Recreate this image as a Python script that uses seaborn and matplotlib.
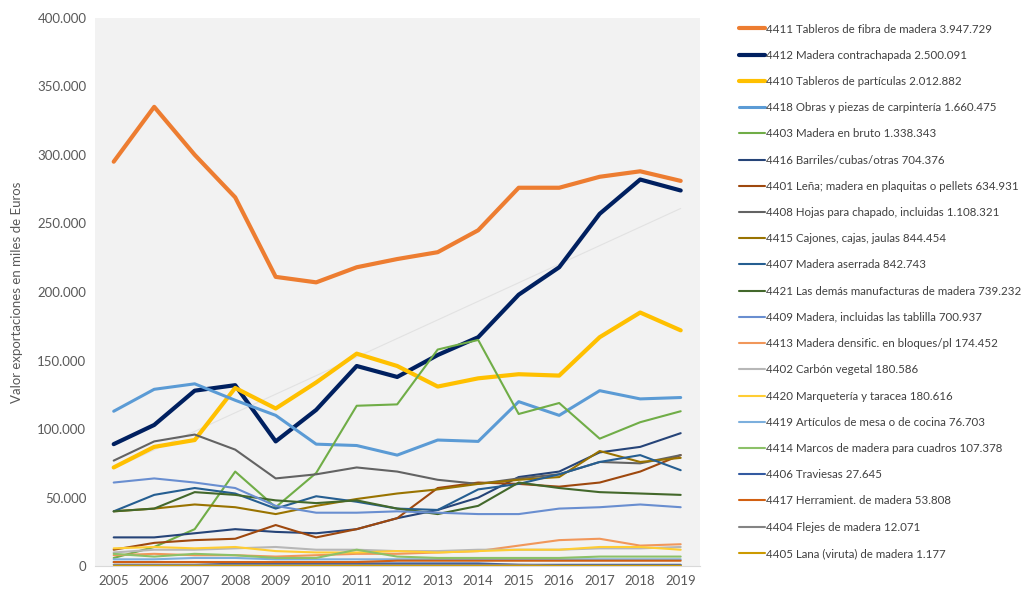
import numpy as np
import pandas as pd
import seaborn as sns
import matplotlib.pyplot as plt
from matplotlib.ticker import FuncFormatter

years = list(range(2005, 2020))

# valores en miles de euros
s4411 = [295000, 335000, 300000, 269000, 211000, 207000, 218000, 224000, 229000, 245000, 276000, 276000, 284000, 288000, 281000]
s4412 = [89000, 103000, 128000, 132000, 91000, 114000, 146000, 138000, 154000, 167000, 198000, 218000, 257000, 282000, 274000]
s4410 = [72000, 87000, 92000, 130000, 115000, 134000, 155000, 146000, 131000, 137000, 140000, 139000, 167000, 185000, 172000]
s4418 = [113000, 129000, 133000, 121000, 110000, 89000, 88000, 81000, 92000, 91000, 120000, 110000, 128000, 122000, 123000]
s4403 = [6000, 14000, 27000, 69000, 43000, 68000, 117000, 118000, 158000, 165000, 111000, 119000, 93000, 105000, 113000]
s4416 = [21000, 21000, 24000, 27000, 25000, 24000, 27000, 35000, 41000, 50000, 65000, 69000, 83000, 87000, 97000]
s4401 = [12000, 17000, 19000, 20000, 30000, 21000, 27000, 35000, 57000, 61000, 60000, 58000, 61000, 69000, 81000]
s4408 = [77000, 91000, 96000, 85000, 64000, 67000, 72000, 69000, 63000, 60000, 64000, 67000, 76000, 75000, 81000]
s4415 = [40000, 42000, 45000, 43000, 38000, 44000, 49000, 53000, 56000, 60000, 63000, 65000, 84000, 76000, 79000]
s4407 = [40000, 52000, 57000, 53000, 42000, 51000, 47000, 42000, 41000, 56000, 60000, 67000, 76000, 81000, 70000]
s4421 = [40000, 42000, 54000, 52000, 48000, 46000, 48000, 42000, 38000, 44000, 61000, 57000, 54000, 53000, 52000]
s4409 = [61000, 64000, 61000, 57000, 44000, 39000, 39000, 40000, 39000, 38000, 38000, 42000, 43000, 45000, 43000]
s4413 = [8000, 9000, 8000, 8000, 7000, 8000, 9000, 9000, 10000, 11000, 15000, 19000, 20000, 15000, 16000]
s4402 = [10000, 12000, 12000, 13000, 14000, 12000, 12000, 11000, 11000, 12000, 12000, 12000, 13000, 13000, 14000]
s4420 = [13000, 14000, 13000, 14000, 11000, 10000, 10000, 11000, 10000, 11000, 12000, 12000, 14000, 14000, 12000]
s4419 = [5000, 5000, 6000, 6000, 5000, 5000, 5000, 5000, 5000, 5000, 5000, 5000, 5000, 5000, 5000]
s4414 = [9000, 7000, 9000, 8000, 6000, 6000, 12000, 7000, 6000, 6000, 6000, 6000, 7000, 7000, 7000]
s4406 = [3000, 3000, 3000, 2000, 2000, 2000, 2000, 2000, 2000, 2000, 1000, 1000, 1000, 1000, 1000]
s4417 = [3000, 3000, 3000, 3000, 3000, 3000, 3000, 4000, 4000, 4000, 4000, 4000, 4000, 4000, 4000]
s4404 = [1000, 1000, 1000, 1000, 1000, 1000, 1000, 1000, 1000, 1000, 1000, 500, 500, 500, 500]
s4405 = [80, 80, 80, 80, 80, 80, 80, 80, 80, 80, 80, 80, 80, 80, 80]

labels = [
    "4411 Tableros de fibra de madera 3.947.729",
    "4412 Madera contrachapada 2.500.091",
    "4410 Tableros de partículas 2.012.882",
    "4418 Obras y piezas de carpintería 1.660.475",
    "4403 Madera en bruto 1.338.343",
    "4416 Barriles/cubas/otras 704.376",
    "4401 Leña; madera en plaquitas o pellets 634.931",
    "4408 Hojas para chapado, incluidas 1.108.321",
    "4415 Cajones, cajas, jaulas 844.454",
    "4407 Madera aserrada 842.743",
    "4421 Las demás manufacturas de madera 739.232",
    "4409 Madera, incluidas las tablilla 700.937",
    "4413 Madera densific. en bloques/pl 174.452",
    "4402 Carbón vegetal 180.586",
    "4420 Marquetería y taracea 180.616",
    "4419 Artículos de mesa o de cocina 76.703",
    "4414 Marcos de madera para cuadros 107.378",
    "4406 Traviesas 27.645",
    "4417 Herramient. de madera 53.808",
    "4404 Flejes de madera 12.071",
    "4405 Lana (viruta) de madera 1.177",
]
series = [s4411, s4412, s4410, s4418, s4403, s4416, s4401, s4408, s4415, s4407,
          s4421, s4409, s4413, s4402, s4420, s4419, s4414, s4406, s4417, s4404, s4405]

colors = ["#ED7D31", "#002060", "#FFC000", "#5B9BD5", "#70AD47", "#264478",
          "#9E480E", "#636363", "#997300", "#255E91", "#43682B", "#698ED0",
          "#F1975A", "#B7B7B7", "#FFCD33", "#7CAFDD", "#8CC168", "#335AA1",
          "#D26012", "#848484", "#CC9A00"]
widths = [3.0, 3.0, 3.0, 2.2] + [1.5] * 17

rows = []
for lab, vals in zip(labels, series):
    for y, v in zip(years, vals):
        rows.append({"anio": y, "valor": v, "serie": lab})
df = pd.DataFrame(rows)

sns.set_style("white")
plt.rcParams['font.family'] = ['Lato', 'DejaVu Sans']

fig = plt.figure(figsize=(10.29, 5.91), dpi=100)
ax = fig.add_axes([0.092, 0.042, 0.588, 0.928])
ax.set_facecolor("#F2F2F2")

# linea de tendencia (lineal) de la madera contrachapada
sns.regplot(x=np.array(years), y=np.array(s4412), scatter=False, ci=None, ax=ax,
            line_kws={"color": "#E2E2E2", "lw": 0.8}, truncate=True)

sns.lineplot(data=df, x="anio", y="valor", hue="serie", hue_order=labels,
             palette=dict(zip(labels, colors)), size="serie",
             sizes=dict(zip(labels, widths)), size_order=labels, ax=ax)

ax.set_xlim(2004.53, 2019.47)
ax.set_ylim(0, 400000)
ax.set_xticks(years)
ax.set_yticks(range(0, 400001, 50000))
ax.yaxis.set_major_formatter(FuncFormatter(lambda v, p: f"{int(v):,}".replace(",", ".")))
ax.tick_params(axis="both", length=0, labelsize=9.5, colors="#595959", pad=6)
ax.set_xlabel("")
ax.set_ylabel("Valor exportaciones en miles de Euros", fontsize=9.5, color="#595959", labelpad=10)
for side in ["top", "right", "left"]:
    ax.spines[side].set_visible(False)
ax.spines["bottom"].set_color("#D9D9D9")

handles, labs = ax.get_legend_handles_labels()
ax.get_legend().remove()
leg = fig.legend(handles, labs, loc="upper left", bbox_to_anchor=(0.714, 0.968),
                 frameon=False, fontsize=8.3, handlelength=2.2, handletextpad=0.1,
                 labelspacing=1.32, borderaxespad=0)
for t in leg.get_texts():
    t.set_color("#404040")

fig.savefig("out.png", dpi=100)
